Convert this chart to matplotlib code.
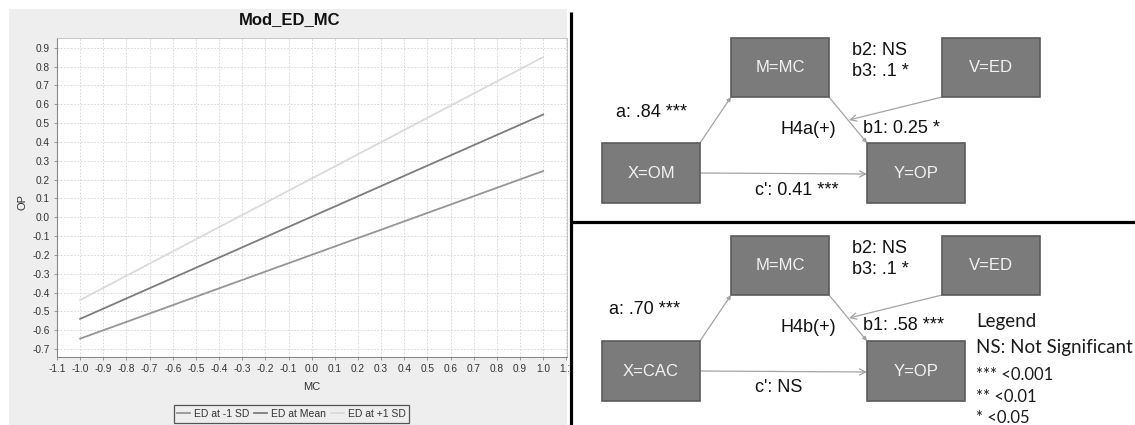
import matplotlib
matplotlib.use("Agg")
import matplotlib.pyplot as plt
from matplotlib.patches import Rectangle
from matplotlib.lines import Line2D

# ---------------- data ----------------
mc_values = [-1.0, 1.0]
op_minus_sd = [-0.645, 0.245]
op_mean = [-0.54, 0.545]
op_plus_sd = [-0.44, 0.85]
series_labels = ["ED at -1 SD", "ED at Mean", "ED at +1 SD"]
series_colors = ["#959595", "#7c7c7c", "#dadada"]
x_ticks = [round(-1.1 + 0.1 * i, 1) for i in range(23)]
y_ticks = [round(-0.7 + 0.1 * i, 1) for i in range(17)]
chart_title = "Mod_ED_MC"

top_boxes = ["M=MC", "V=ED", "X=OM", "Y=OP"]
top_labels = ["b2: NS", "b3: .1 *", "a: .84 ***", "H4a(+)", "b1: 0.25 *", "c': 0.41 ***"]
bottom_boxes = ["M=MC", "V=ED", "X=CAC", "Y=OP"]
bottom_labels = ["b2: NS", "b3: .1 *", "a: .70 ***", "H4b(+)", "b1: .58 ***", "c': NS"]
legend_lines = ["Legend", "NS: Not Significant", "*** <0.001", "** <0.01", "* <0.05"]

W, H = 1135, 425
fig = plt.figure(figsize=(W / 100, H / 100), dpi=100)
fig.patch.set_facecolor("white")
plt.rcParams['font.family'] = ['Liberation Sans', 'DejaVu Sans']


def fx(px):
    return px / W


def fy(py):
    return 1 - py / H


# gray panel behind the left chart (its own axes, drawn first)
bg = fig.add_axes([fx(9), fy(425), fx(567) - fx(9), fy(9) - fy(425)], zorder=-5)
bg.set_facecolor("#eeeeee")
bg.set_xticks([])
bg.set_yticks([])
for s in bg.spines.values():
    s.set_visible(False)

# ---------------- left chart ----------------
L, T, R, B = 57, 38, 567, 357
ax = fig.add_axes([fx(L), fy(B), fx(R) - fx(L), fy(T) - fy(B)])
ax.set_facecolor("white")
for data, lab, col in zip([op_minus_sd, op_mean, op_plus_sd], series_labels, series_colors):
    ax.plot(mc_values, data, color=col, lw=1.3, label=lab)
ax.set_xlim(-1.1, 1.103)
ax.set_ylim(-0.7425, 0.9515)
ax.set_xticks(x_ticks)
ax.set_xticklabels([f"{v:.1f}" for v in x_ticks])
ax.set_yticks(y_ticks)
ax.set_yticklabels([f"{v:.1f}" for v in y_ticks])
ax.tick_params(axis="both", labelsize=7.3, colors="#888888", labelcolor="#333333",
               length=2, width=0.6, direction="out", pad=3)
ax.grid(True, color="#d2d2d2", lw=0.6, ls=(0, (2, 2)))
for s in ["top", "right"]:
    ax.spines[s].set_color("#bbbbbb")
    ax.spines[s].set_linewidth(0.6)
for s in ["left", "bottom"]:
    ax.spines[s].set_color("#888888")
    ax.spines[s].set_linewidth(0.8)

fig.text(fx(290), fy(20), chart_title, ha="center", va="center",
         fontsize=12, fontweight="bold", color="#111111")
fig.text(fx(23), fy(202), "OP", ha="center", va="center", rotation=90,
         fontsize=8, color="#333333")
fig.text(fx(312), fy(387), "MC", ha="center", va="center",
         fontsize=8, color="#333333")

handles = [Line2D([], [], color=c, lw=1.3) for c in series_colors]
leg = fig.legend(handles, series_labels, loc="center",
                 bbox_to_anchor=(fx(291.5), fy(414)), ncol=3, fontsize=7.5,
                 frameon=True, fancybox=False, edgecolor="#555555",
                 facecolor="#eeeeee", framealpha=1, handlelength=1.2,
                 handletextpad=0.4, columnspacing=0.5, borderpad=0.35,
                 borderaxespad=0)
leg.get_frame().set_linewidth(0.9)
for t in leg.get_texts():
    t.set_color("#333333")

# ---------------- right diagrams ----------------
rax = fig.add_axes([fx(569), 0, 1 - fx(569), 1], zorder=5)
rax.set_xlim(569, 1135)
rax.set_ylim(425, 0)
rax.set_facecolor("white")
rax.set_xticks([])
rax.set_yticks([])
for s in rax.spines.values():
    s.set_visible(False)

rax.plot([571, 571], [12, 425], color="black", lw=2.3, solid_capstyle="butt")
rax.plot([570, 1135], [222, 222], color="black", lw=2.3, solid_capstyle="butt")

BOX_FC = "#7b7b7b"
BOX_EC = "#5a5a5a"
ARROW_C = "#a3a3a3"


def draw_box(x0, y0, x1, y1, text):
    rax.add_patch(Rectangle((x0, y0), x1 - x0, y1 - y0, facecolor=BOX_FC,
                            edgecolor=BOX_EC, lw=1.2, zorder=2))
    rax.text((x0 + x1) / 2, (y0 + y1) / 2, text, ha="center", va="center",
             fontsize=12, color="#f2f2f2", zorder=3)


def arrow(p0, p1, filled):
    style = "-|>" if filled else "->"
    ms = 6 if filled else 11
    rax.annotate("", xy=p1, xytext=p0,
                 arrowprops=dict(arrowstyle=style, color=ARROW_C, lw=0.9,
                                 mutation_scale=ms, shrinkA=0, shrinkB=0),
                 zorder=1)


def draw_diagram(dy, boxes, labels, a_x):
    # boxes: M, V, X, Y
    draw_box(731, 38 + dy, 829, 97 + dy, boxes[0])
    draw_box(942, 38 + dy, 1040, 97 + dy, boxes[1])
    draw_box(602, 143 + dy, 700, 203 + dy, boxes[2])
    draw_box(867, 143 + dy, 965, 203 + dy, boxes[3])
    arrow((700, 143 + dy), (731, 97 + dy), True)
    arrow((829, 97 + dy), (867, 143 + dy), True)
    arrow((942, 97 + dy), (849, 120 + dy), False)
    arrow((700, 173 + dy), (867, 174 + dy), False)
    kw = dict(ha="left", va="center", fontsize=13, color="#111111")
    rax.text(852, 50 + dy, labels[0], **kw)
    rax.text(852, 71 + dy, labels[1], **kw)
    rax.text(a_x, 112 + dy, labels[2], **kw)
    rax.text(780, 129 + dy, labels[3], **kw)
    rax.text(863, 128 + dy, labels[4], **kw)
    rax.text(755, 190 + dy, labels[5], **kw)


draw_diagram(0, top_boxes, top_labels, 616)
draw_diagram(198, bottom_boxes, bottom_labels, 609)

leg_y = [322, 348, 375, 397, 418]
leg_fs = [13.5, 13.5, 12, 12, 12]
for txt, yy, fs in zip(legend_lines, leg_y, leg_fs):
    rax.text(976, yy, txt, ha="left", va="center", fontsize=fs,
             color="#1a1a1a", family=["Lato", "DejaVu Sans"])

fig.savefig("out.png", dpi=100)
